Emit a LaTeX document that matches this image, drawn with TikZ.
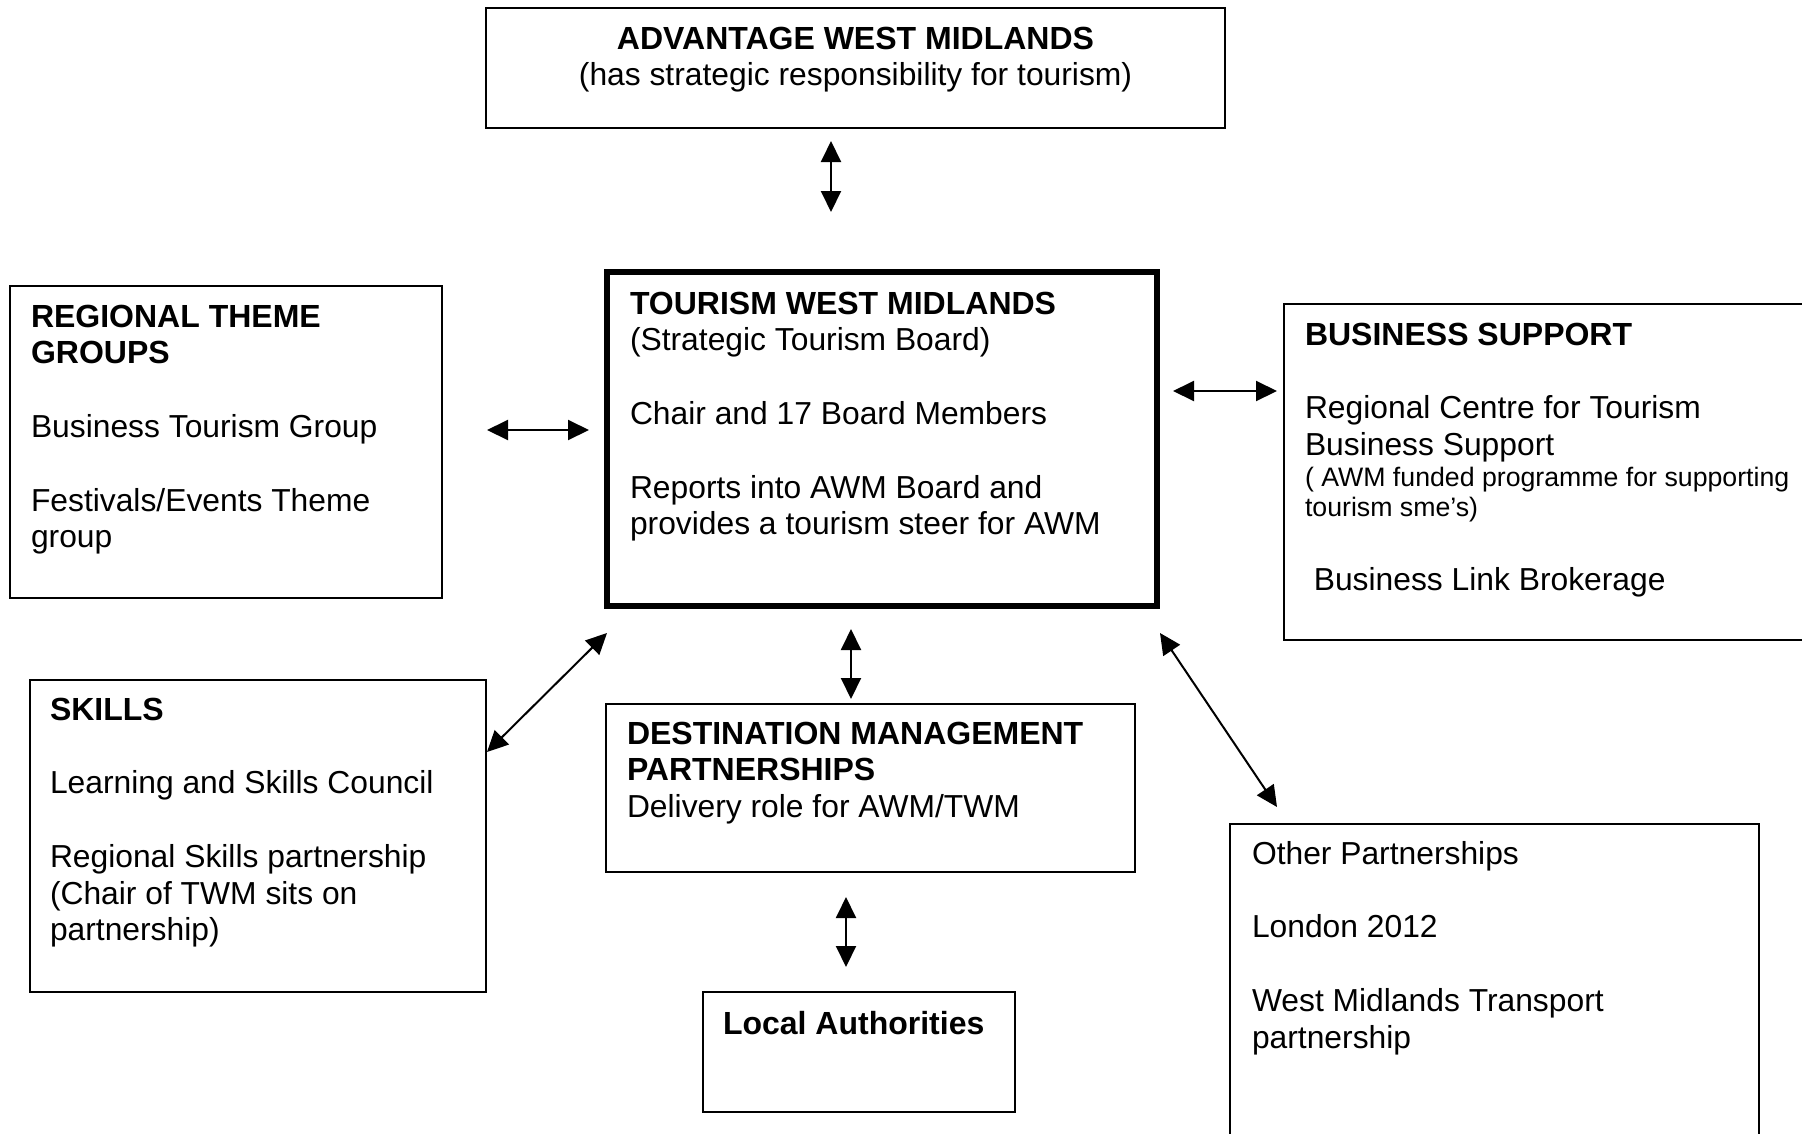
\documentclass[tikz,border=0pt]{standalone}
\usepackage{fontspec}
\setmainfont{Liberation Sans}
\usepackage{xcolor}
\usepackage{tikz}
\usetikzlibrary{arrows.meta}
\definecolor{ink}{HTML}{000000}
\newcommand{\bodysize}{\fontsize{31.8}{36.8}\selectfont}
\newcommand{\notesize}{\fontsize{26.7}{30.7}\selectfont}
\newcommand{\boxhead}[1]{{\fontsize{32}{36.8}\selectfont\bfseries #1}}

\begin{document}
\begin{tikzpicture}[x=1pt, y=-1pt,
    panel/.style={draw=ink, line width=2pt, anchor=north west, outer sep=0pt,
                  inner ysep=0pt, align=flush left, text=ink, font=\bodysize},
    link/.style={draw=ink, line width=2pt,
                 {Triangle[length=21pt,width=20pt]}-{Triangle[length=21pt,width=20pt]}}]
  \useasboundingbox (0,0) rectangle (1802,1133);
  \clip (0,0) rectangle (1802,1133);

  \node[panel, align=flush center, inner xsep=20pt, text width=699pt,
        text height=41pt, text depth=79pt] (awm) at (486,8) {%
    \boxhead{ADVANTAGE WEST MIDLANDS}\\
    (has strategic responsibility for tourism)};

  \node[panel, line width=6pt, inner xsep=23pt, text width=504pt,
        text height=42pt, text depth=292pt] (twm) at (607,272) {%
    \boxhead{TOURISM WEST MIDLANDS}\\
    (Strategic Tourism Board)\\[36.8pt]
    Chair and 17 Board Members\\[36.8pt]
    Reports into AWM Board and\\
    provides a tourism steer for AWM};

  \node[panel, inner xsep=21pt, text width=390pt,
        text height=41pt, text depth=271pt] (rtg) at (10,286) {%
    \boxhead{REGIONAL THEME}\\
    \boxhead{GROUPS}\\[36.8pt]
    Business Tourism Group\\[36.8pt]
    Festivals/Events Theme\\
    group};

  \node[panel, inner xsep=21pt, text width=504pt,
        text height=41pt, text depth=295pt] (bs) at (1284,304) {%
    \boxhead{BUSINESS SUPPORT}\\[36.8pt]
    Regional Centre for Tourism\\
    Business Support\\
    \notesize ( AWM funded programme for supporting\\
    tourism sme's)\\[37pt]
    \bodysize\ Business Link Brokerage};

  \node[panel, inner xsep=20pt, text width=416pt,
        text height=40pt, text depth=272pt] (skills) at (30,680) {%
    \boxhead{SKILLS}\\[36.8pt]
    Learning and Skills Council\\[36.8pt]
    Regional Skills partnership\\
    (Chair of TWM sits on\\
    partnership)};

  \node[panel, inner xsep=21pt, text width=487pt,
        text height=40pt, text depth=128pt] (dmp) at (606,704) {%
    \boxhead{DESTINATION MANAGEMENT}\\
    \boxhead{PARTNERSHIPS}\\
    Delivery role for AWM/TWM};

  \node[panel, inner xsep=20pt, text width=272pt,
        text height=42pt, text depth=78pt] (la) at (703,992) {%
    \boxhead{Local Authorities}};

  \node[panel, inner xsep=22pt, text width=485pt,
        text height=40pt, text depth=296pt] (other) at (1230,824) {%
    Other Partnerships\\[36.8pt]
    London 2012\\[36.8pt]
    West Midlands Transport\\
    partnership};

  % arrow ends sit in the gaps between the boxes
  \coordinate (awm-end)      at (831,141);
  \coordinate (twm-n-end)    at (831,212);
  \coordinate (rtg-end)      at (487,430);
  \coordinate (twm-w-end)    at (589,430);
  \coordinate (twm-e-end)    at (1173,391);
  \coordinate (bs-end)       at (1277,391);
  \coordinate (skills-end)   at (487,752);
  \coordinate (twm-sw-end)   at (607,633);
  \coordinate (twm-s-end)    at (851,629);
  \coordinate (dmp-end)      at (851,699);
  \coordinate (twm-se-end)   at (1160,633);
  \coordinate (other-end)    at (1277,807);
  \coordinate (dmp-s-end)    at (846,897);
  \coordinate (la-end)       at (846,967);

  \draw[link] (awm-end) -- (twm-n-end);
  \draw[link] (rtg-end) -- (twm-w-end);
  \draw[link] (twm-e-end) -- (bs-end);
  \draw[link] (skills-end) -- (twm-sw-end);
  \draw[link] (twm-s-end) -- (dmp-end);
  \draw[link] (twm-se-end) -- (other-end);
  \draw[link] (dmp-s-end) -- (la-end);
\end{tikzpicture}
\end{document}
